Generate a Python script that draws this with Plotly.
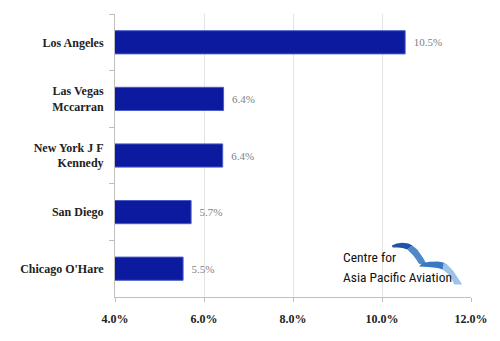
import plotly.graph_objects as go

# ---- data ----
airports = ["Los Angeles", "Las Vegas<br>Mccarran", "New York J F<br>Kennedy", "San Diego", "Chicago O'Hare"]
growth = [10.52, 6.44, 6.42, 5.71, 5.53]
labels = ["10.5%", "6.4%", "6.4%", "5.7%", "5.5%"]
x_ticks = [4, 6, 8, 10, 12]
x_tick_text = ["4.0%", "6.0%", "8.0%", "10.0%", "12.0%"]

W, H = 500, 341
L, R, T, B = 115, 21, 14, 44

def px(x):
    return (x - L) / (W - L - R)

def py(y):
    return (H - B - y) / (H - T - B)

SERIF = "Liberation Serif, DejaVu Serif, serif"

fig = go.Figure()
fig.add_trace(go.Bar(
    x=growth, y=airports, orientation="h",
    marker=dict(color="#0b1a9e", line=dict(color="#4a5cc8", width=1)),
    text=labels, texttemplate="\u00a0\u00a0%{text}", textposition="outside",
    textfont=dict(family=SERIF, size=11, color="#7f7f7f"),
    cliponaxis=False, hoverinfo="skip",
))

# logo swooshes (decoration)
def path(points):
    return "M " + " L ".join(f"{px(a):.4f},{py(b):.4f}" for a, b in points) + " Z"

sw1a = [(398, 245.5), (403, 243.5), (409, 242.8), (415, 243.5), (419, 245.5),
        (414, 249.5), (409, 248), (404, 247.5), (399, 247.5)]
sw1b = [(419, 245.5), (424, 249.5), (428, 255), (431, 259.5), (433, 263.5),
        (426, 264), (423, 259.5), (420, 255.5), (416, 251.5), (414, 249.5)]
sw2a = [(429, 263), (437, 261.8), (445, 261.5), (451, 262.5), (455, 265),
        (450, 269.5), (445, 268), (438, 267.2), (431, 266.8), (426, 266.5)]
sw2b = [(451, 262.5), (456, 266), (461, 271), (465, 277), (470, 284.5),
        (462, 284.5), (459, 278.5), (455, 273.5), (450, 269.5)]
shapes = []
for pts, col in [(sw1a, "#1d54a8"), (sw1b, "#4f87cb"), (sw2a, "#3a78c4"), (sw2b, "#9ec2ea")]:
    shapes.append(dict(type="path", xref="paper", yref="paper", path=path(pts),
                       fillcolor=col, line=dict(width=0), layer="above"))

logo_font = dict(family="Roboto Condensed, Liberation Sans, Arial, sans-serif", size=13.5, color="#111111")
annotations = [
    dict(text="Centre for", x=px(346), y=py(256.5), xref="paper", yref="paper",
         xanchor="left", yanchor="middle", showarrow=False, font=logo_font),
    dict(text="Asia Pacific Aviation", x=px(346), y=py(276.5), xref="paper", yref="paper",
         xanchor="left", yanchor="middle", showarrow=False, font=logo_font),
]

fig.update_layout(
    width=W, height=H,
    margin=dict(l=L, r=R, t=T, b=B, pad=0),
    paper_bgcolor="white", plot_bgcolor="white",
    bargap=0.59, showlegend=False,
    shapes=shapes, annotations=annotations,
    xaxis=dict(range=[4, 12], tickvals=x_ticks, ticktext=x_tick_text,
               showgrid=True, gridcolor="#e3e3e3", gridwidth=1,
               showline=True, linecolor="#bfbfbf", linewidth=1,
               ticks="outside", ticklen=4, tickcolor="#bfbfbf",
               ticklabelstandoff=7, zeroline=False,
               tickfont=dict(family=SERIF, size=12, color="#222222", weight="bold")),
    yaxis=dict(autorange="reversed", showline=True, linecolor="#bfbfbf", linewidth=1,
               ticks="outside", ticklen=5, tickcolor="#bfbfbf", tickson="boundaries",
               ticklabelstandoff=8, showgrid=False,
               tickfont=dict(family=SERIF, size=12, color="#222222", weight="bold")),
)

fig.write_html("out.html")
